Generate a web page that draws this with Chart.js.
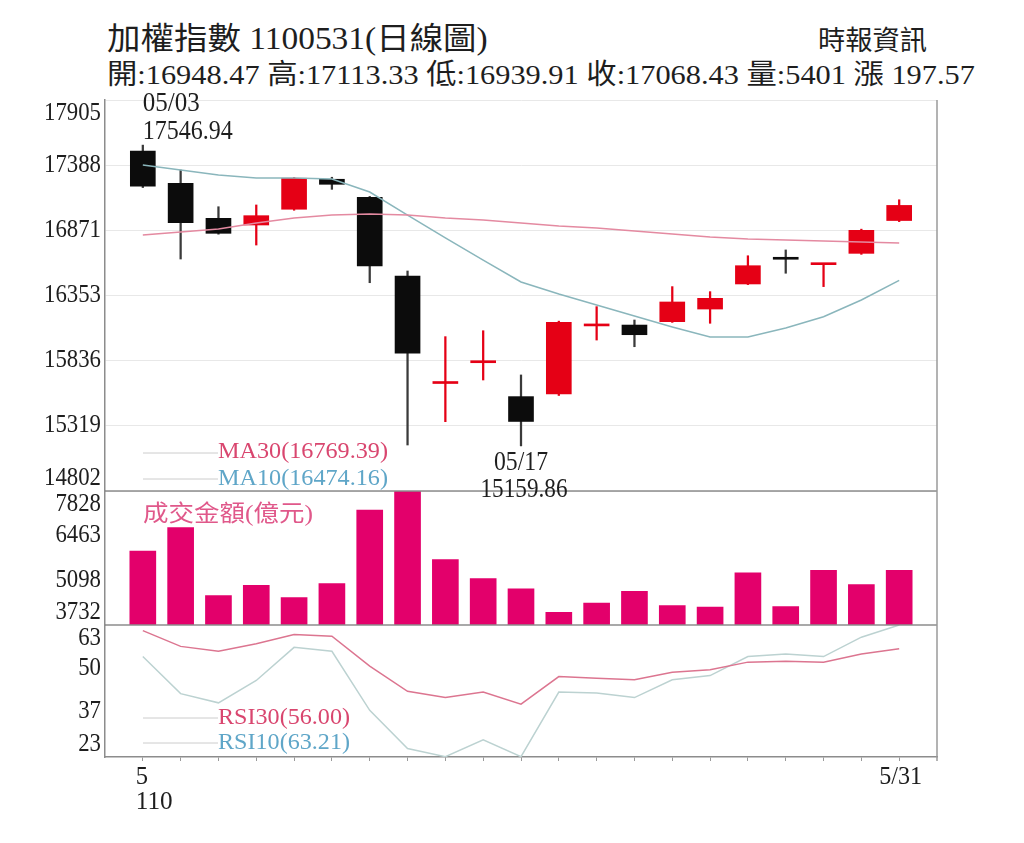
<!DOCTYPE html>
<html>
<head>
<meta charset="utf-8">
<title>加權指數 1100531(日線圖)</title>
<script src="https://cdn.jsdelivr.net/npm/chart.js@4.4.0/dist/chart.umd.min.js"></script>
<style>
  body { margin: 0; background: #fff; width: 1024px; height: 843px; overflow: hidden; position: relative;
         font-family: "Liberation Serif", "Noto Sans CJK TC", serif; color: #1e1e1e; }
  #chart { position: absolute; left: 0; top: 0; }
  .hd { position: absolute; white-space: nowrap; transform-origin: 0 50%; }
</style>
</head>
<body>
<div class="hd" data-w="381" style="left:107px;top:22px;font-size:31px;line-height:34px">加權指數 1100531(日線圖)</div>
<div class="hd" data-w="109" style="left:818px;top:26px;font-size:27px;line-height:30px">時報資訊</div>
<div class="hd" data-w="868" style="left:107px;top:59px;font-size:28px;line-height:31px">開:16948.47 高:17113.33 低:16939.91 收:17068.43 量:5401 漲 197.57</div>
<canvas id="chart" width="1024" height="843"></canvas>
<script>
'use strict';

// trading days, May 2021 (民國110年)
var dates = ['05/03', '05/04', '05/05', '05/06', '05/07', '05/10', '05/11', '05/12', '05/13', '05/14',
             '05/17', '05/18', '05/19', '05/20', '05/21', '05/24', '05/25', '05/26', '05/27', '05/28', '05/31'];

var openV  = [17500, 17244, 16966, 16913, 17038, 17276, 17133, 16508, 15655, 15820,
              15551, 15572, 16112, 16119, 16146, 16246, 16445, 16648, 16598, 16688, 16948.47];
var highV  = [17546.94, 17349, 17058, 17072, 17290, 17292, 17140, 16548, 16027, 16074,
              15723, 16150, 16265, 16159, 16424, 16384, 16669, 16715, 16604, 16880, 17113.33];
var lowV   = [17210, 16643, 16840, 16754, 17030, 17196, 16455, 15167, 15352, 15683,
              15159.86, 15560, 16000, 15947, 16140, 16133, 16440, 16530, 16424, 16680, 16939.91];
var closeV = [17222, 16931, 16847, 16987, 17284, 17236, 16588, 15895, 15662, 15828,
              15353.89, 16141, 16119, 16042.36, 16302.06, 16331, 16590, 16641, 16601, 16870.86, 17068.43];

var ma30 = [16834, 16858, 16881, 16929, 16969, 16992, 17000, 16992, 16969, 16953,
            16929, 16905, 16889, 16865, 16842, 16818, 16802, 16794, 16786, 16778, 16769.39];
var ma10 = [17389, 17349, 17310, 17286, 17286, 17278, 17175, 16992, 16810, 16635,
            16461, 16365, 16278, 16191, 16104, 16024, 16024, 16096, 16185, 16318, 16474.16];

// 成交金額(億元)
var volume = [5990, 6710, 4635, 4943, 4573, 4995, 7243, 7828, 5734, 5149,
              4841, 4123, 4400, 4758, 4327, 4276, 5324, 4296, 5405, 4964, 5401];

var rsi30 = [61.5, 56.7, 55.2, 57.5, 60.3, 59.8, 50.7, 43.0, 41.1, 42.8,
             39.1, 47.5, 47.0, 46.5, 48.8, 49.6, 51.9, 52.2, 51.9, 54.4, 56.00];
var rsi10 = [53.6, 42.3, 39.5, 46.3, 56.4, 55.2, 37.2, 25.6, 23.1, 28.2,
             23.1, 42.8, 42.5, 41.1, 46.5, 47.8, 53.6, 54.4, 53.6, 59.5, 63.21];

var priceTicks = [14802, 15319, 15836, 16353, 16871, 17388, 17905];
var volTicks = [3732, 5098, 6463, 7828];
var rsiTicks = [23, 37, 50, 63];
var rsiMax = 63.21;

var xTickIdx = [0, 20];
var xTickText = [['5', '110'], ['5/31']];

var RED = '#e50015';
var BLACK = '#0c0c0c';
var SERIF = '"Liberation Serif", "Noto Sans CJK TC", serif';

// fit headline widths to the reference
document.querySelectorAll('.hd').forEach(function(el) {
  var w = parseFloat(el.getAttribute('data-w'));
  el.style.transform = 'scaleX(' + (w / el.offsetWidth) + ')';
});

function pts(arr) {
  return arr.map(function(v, i) { return {x: i, y: v}; });
}

var bodyData = openV.map(function(o, i) { return {x: i, y: [o, closeV[i]]}; });
var wickData = lowV.map(function(l, i) { return {x: i, y: [l, highV[i]]}; });
var bodyColors = openV.map(function(o, i) { return closeV[i] >= o ? RED : BLACK; });
var wickColors = openV.map(function(o, i) { return closeV[i] >= o ? RED : '#3a3a3a'; });

function drawText(ctx, str, x, y, size, color, align, width) {
  ctx.save();
  ctx.font = size + 'px ' + SERIF;
  var natural = ctx.measureText(str).width;
  var sx = width ? width / natural : 1;
  ctx.translate(x, y);
  ctx.scale(sx, 1);
  ctx.fillStyle = color;
  ctx.textAlign = align;
  ctx.textBaseline = 'middle';
  ctx.fillText(str, 0, 0);
  ctx.restore();
}

function hLine(ctx, x1, x2, y, color, w) {
  ctx.save();
  ctx.strokeStyle = color;
  ctx.lineWidth = w;
  ctx.beginPath();
  ctx.moveTo(x1, y);
  ctx.lineTo(x2, y);
  ctx.stroke();
  ctx.restore();
}

var overlay = {
  id: 'overlay',
  afterDraw: function(chart) {
    var ctx = chart.ctx;
    var area = chart.chartArea;
    var sx = chart.scales.x, yP = chart.scales.yP, yV = chart.scales.yV, yR = chart.scales.yR;

    // panel separators and right frame
    hLine(ctx, area.left, area.right, yV.top, '#8c8c8c', 1.5);
    hLine(ctx, area.left, area.right, yR.top, '#8c8c8c', 1.5);
    ctx.save();
    ctx.strokeStyle = '#9a9a9a';
    ctx.lineWidth = 1.5;
    ctx.beginPath();
    ctx.moveTo(area.right, area.top);
    ctx.lineTo(area.right, area.bottom + 4);
    ctx.stroke();
    ctx.restore();

    // y-axis labels, outer ones kept inside their panel
    [[yP, priceTicks], [yV, volTicks], [yR, rsiTicks]].forEach(function(p) {
      var s = p[0];
      p[1].forEach(function(v) {
        var y = Math.min(Math.max(s.getPixelForValue(v), s.top + 13), s.bottom - 13);
        var str = String(v);
        drawText(ctx, str, area.left - 4, y, 25, '#1e1e1e', 'right', 11.4 * str.length);
      });
    });

    // x-axis labels
    xTickIdx.forEach(function(idx, k) {
      var x = sx.getPixelForValue(idx);
      var lines = xTickText[k];
      var off = k === 0 ? -7 : -20;
      lines.forEach(function(str, j) {
        drawText(ctx, str, x + off, area.bottom + 20 + j * 25, 25, '#1e1e1e', 'left', 12.3 * str.replace('/', '').length + (str.indexOf('/') >= 0 ? 6 : 0));
      });
    });

    // high / low annotations
    var hx = sx.getPixelForValue(0);
    var hy = yP.getPixelForValue(highV[0]);
    drawText(ctx, dates[0], hx, hy - 41, 27, '#1e1e1e', 'left', 57);
    drawText(ctx, highV[0].toFixed(2), hx, hy - 13, 27, '#1e1e1e', 'left', 90);
    var lx = sx.getPixelForValue(10);
    var ly = yP.getPixelForValue(lowV[10]);
    drawText(ctx, dates[10], lx, ly + 17, 27, '#1e1e1e', 'center', 54);
    drawText(ctx, lowV[10].toFixed(2), lx + 3, ly + 44, 27, '#1e1e1e', 'center', 87);

    // legends
    var lg = area.left + 38;
    hLine(ctx, lg, lg + 75, 453, '#cccccc', 1);
    hLine(ctx, lg, lg + 75, 479, '#cccccc', 1);
    drawText(ctx, 'MA30(' + ma30[20].toFixed(2) + ')', lg + 75, 452, 23, '#d9466f', 'left', 170);
    drawText(ctx, 'MA10(' + ma10[20].toFixed(2) + ')', lg + 75, 479, 23, '#5fa6c8', 'left', 170);
    drawText(ctx, '成交金額(億元)', lg, yV.top + 24, 23, '#e0588a', 'left', 170);
    hLine(ctx, lg, lg + 75, 718, '#cccccc', 1);
    hLine(ctx, lg, lg + 75, 743, '#cccccc', 1);
    drawText(ctx, 'RSI30(' + rsi30[20].toFixed(2) + ')', lg + 75, 718, 23, '#d9466f', 'left', 132);
    drawText(ctx, 'RSI10(' + rsi10[20].toFixed(2) + ')', lg + 75, 743, 23, '#5fa6c8', 'left', 132);
  }
};

function fixedTicks(values) {
  return function(scale) {
    scale.ticks = values.map(function(v) { return {value: v}; });
  };
}

function yAxis(weight, min, max, ticks, grid) {
  return {
    type: 'linear',
    position: 'left',
    stack: 'panels',
    stackWeight: weight,
    min: min,
    max: max,
    afterBuildTicks: fixedTicks(ticks),
    afterFit: function(scale) { scale.width = 105; },
    ticks: {display: false},
    grid: grid ? {display: true, color: '#e8e8e8', lineWidth: 1, drawTicks: false} : {display: false},
    border: {display: true, color: '#8c8c8c', width: 1.5}
  };
}

var ctx = document.getElementById('chart');
var lineOpts = {type: 'line', pointRadius: 0, borderWidth: 1.5, fill: false, tension: 0, order: 0};

new Chart(ctx, {
  type: 'bar',
  data: {
    datasets: [
      Object.assign({label: 'MA30', data: pts(ma30), yAxisID: 'yP', borderColor: '#e48aa1'}, lineOpts),
      Object.assign({label: 'MA10', data: pts(ma10), yAxisID: 'yP', borderColor: '#8ab6bc'}, lineOpts),
      {label: 'body', data: bodyData, yAxisID: 'yP', backgroundColor: bodyColors,
       barThickness: 25, minBarLength: 2, grouped: false, order: 2},
      {label: 'wick', data: wickData, yAxisID: 'yP', backgroundColor: wickColors,
       barThickness: 1.6, grouped: false, order: 3},
      {label: '成交金額', data: pts(volume), yAxisID: 'yV', backgroundColor: '#e3006b',
       barThickness: 26, grouped: false, order: 1},
      Object.assign({label: 'RSI30', data: pts(rsi30), yAxisID: 'yR', borderColor: '#dc7590'}, lineOpts),
      Object.assign({label: 'RSI10', data: pts(rsi10), yAxisID: 'yR', borderColor: '#bcd2d1'}, lineOpts)
    ]
  },
  options: {
    responsive: false,
    animation: false,
    devicePixelRatio: 1,
    layout: {padding: {top: 100, right: 87, left: 0, bottom: 0}},
    plugins: {legend: {display: false}, tooltip: {enabled: false}, title: {display: false}},
    scales: {
      x: {
        type: 'linear',
        min: -1,
        max: 21,
        offset: false,
        afterBuildTicks: fixedTicks(dates.map(function(d, i) { return i; })),
        afterFit: function(scale) { scale.height = 86; },
        ticks: {display: false},
        grid: {display: true, drawOnChartArea: false, drawTicks: true, tickLength: 4, color: '#9a9a9a', offset: false},
        border: {display: true, color: '#8c8c8c', width: 1.5}
      },
      yR: yAxis(132, rsiTicks[0], rsiMax, rsiTicks, false),
      yV: yAxis(134, volTicks[0], volTicks[volTicks.length - 1], volTicks, false),
      yP: yAxis(391, priceTicks[0], priceTicks[priceTicks.length - 1], priceTicks, true)
    }
  },
  plugins: [overlay]
});
</script>
</body>
</html>
